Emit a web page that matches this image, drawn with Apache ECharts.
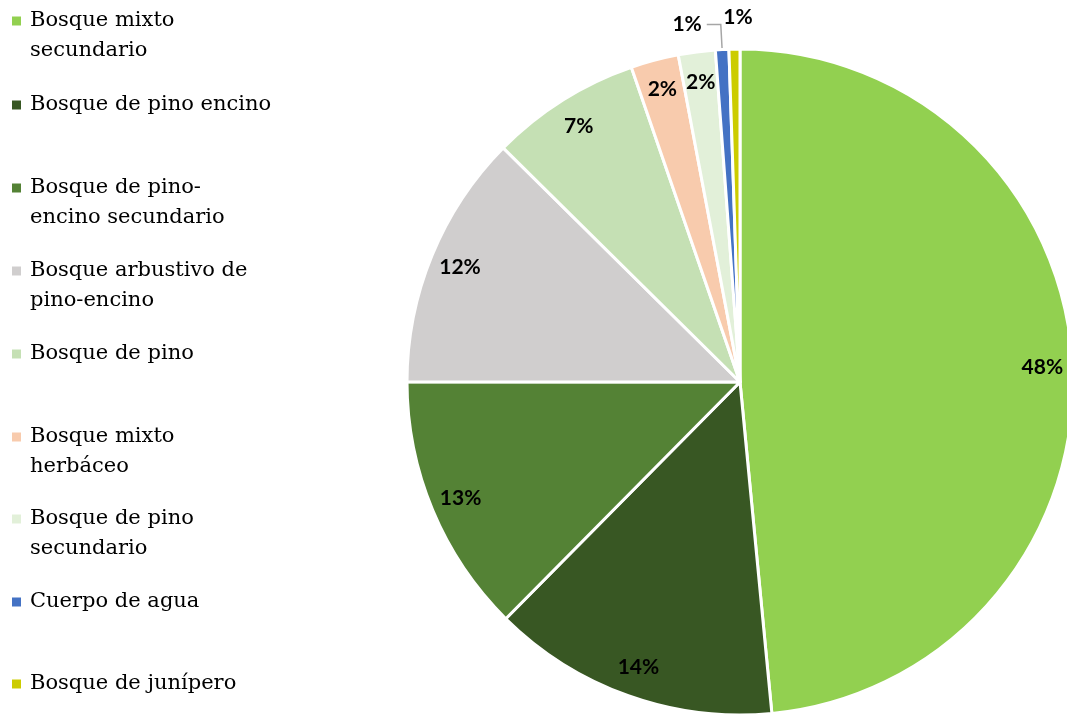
<!DOCTYPE html>
<html><head><meta charset="utf-8">
<script src="https://cdn.jsdelivr.net/npm/echarts@6/dist/echarts.min.js"></script>
<style>html,body{margin:0;padding:0;background:#fff}#c{width:1067px;height:715px}</style>
</head><body><div id="c"></div>
<script>
// ---- data ----
const categories = ['Bosque mixto secundario', 'Bosque de pino encino', 'Bosque de pino-encino secundario',
  'Bosque arbustivo de pino-encino', 'Bosque de pino', 'Bosque mixto herbáceo',
  'Bosque de pino secundario', 'Cuerpo de agua', 'Bosque de junípero'];
const legendLines = [['Bosque mixto', 'secundario'], ['Bosque de pino encino'], ['Bosque de pino-', 'encino secundario'],
  ['Bosque arbustivo de', 'pino-encino'], ['Bosque de pino'], ['Bosque mixto', 'herbáceo'],
  ['Bosque de pino', 'secundario'], ['Cuerpo de agua'], ['Bosque de junípero']];
const values = [48.47, 13.94, 12.59, 12.40, 7.30, 2.32, 1.79, 0.65, 0.53];
const colors = ['#92D050', '#385723', '#548235', '#D0CECE', '#C5E0B4', '#F8CBAD', '#E2F0D9', '#4472C4', '#CCCC00'];

// ---- layout ----
const legendFirstLineY = [21, 105, 188, 271, 354, 437, 519, 602, 684];
const CX = 740, CY = 382, R = 333;

const chart = echarts.init(document.getElementById('c'), null, {renderer: 'canvas'});

const legends = categories.map((name, i) => ({
  orient: 'vertical',
  left: 12,
  top: legendFirstLineY[i] - 45,
  padding: 0,
  itemWidth: 9,
  itemHeight: 9,
  selectedMode: false,
  icon: 'rect',
  itemStyle: {borderWidth: 0},
  data: [name],
  formatter: () => '\n' + legendLines[i][0] + '\n' + (legendLines[i][1] || ' '),
  textStyle: {fontFamily: 'DejaVu Serif', fontSize: 21, lineHeight: 30, color: '#000', padding: [0, 0, 0, 4]}
}));

const labelFont = {fontFamily: 'Lato', fontWeight: 'bold', fontSize: 21, color: '#000'};

const baseData = categories.map((name, i) => ({name, value: values[i], itemStyle: {color: colors[i]}}));

const ringData = categories.map((name, i) => {
  const d = {name, value: values[i], itemStyle: {color: 'rgba(0,0,0,0)', borderWidth: 0}};
  if (i === 7) {
    d.label = {show: true, position: 'outside', distanceToLabelLine: 5};
    d.labelLine = {show: true, length: 25, length2: 14, lineStyle: {color: '#A6A6A6', width: 1.5}};
  } else if (i === 8) {
    d.label = {show: false};
  }
  return d;
});

const outerData = categories.map((name, i) => ({
  name, value: values[i],
  itemStyle: {color: 'rgba(0,0,0,0)', borderWidth: 0},
  label: {show: i === 8, padding: [0, 0, 0, 8]}
}));

chart.setOption({
  backgroundColor: '#fff',
  animation: false,
  legend: legends,
  series: [
    {
      type: 'pie', center: [CX, CY], radius: R, startAngle: 90, clockwise: true,
      silent: true, label: {show: false}, labelLine: {show: false},
      itemStyle: {borderColor: '#fff', borderWidth: 3},
      emphasis: {disabled: true},
      data: baseData
    },
    {
      type: 'pie', center: [CX, CY], radius: [R * 0.8, R], startAngle: 90, clockwise: true,
      silent: true, avoidLabelOverlap: false, percentPrecision: 0,
      label: Object.assign({show: true, position: 'inside', formatter: '{d}%'}, labelFont),
      labelLine: {show: false},
      emphasis: {disabled: true},
      data: ringData
    },
    {
      type: 'pie', center: [CX, CY], radius: [350, 374], startAngle: 90, clockwise: true,
      silent: true, avoidLabelOverlap: false, percentPrecision: 0,
      label: Object.assign({position: 'inside', formatter: '{d}%'}, labelFont),
      labelLine: {show: false},
      emphasis: {disabled: true},
      data: outerData
    }
  ]
});
</script></body></html>
